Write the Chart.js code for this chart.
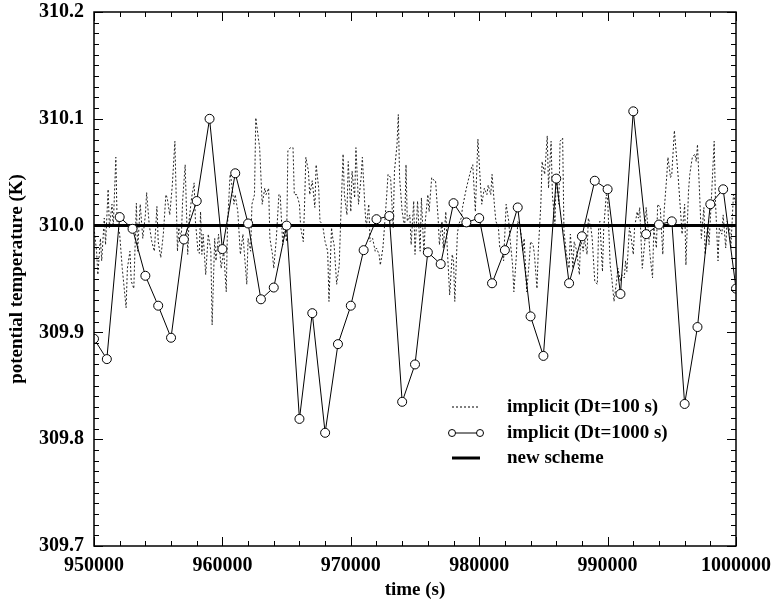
<!DOCTYPE html>
<html>
<head>
<meta charset="utf-8">
<script src="https://cdn.jsdelivr.net/npm/chart.js@4/dist/chart.umd.min.js"></script>
<style>
  html, body { margin: 0; padding: 0; background: #fff; }
  #wrap { width: 774px; height: 601px; }
</style>
</head>
<body>
<div id="wrap"><canvas id="tempChart" width="774" height="601"></canvas></div>
<script>
// ---- data ----
// implicit, Dt=1000 s: one value every 1000 s from 950000 to 1000000
var coarseStart = 950000;
var coarseStep = 1000;
var coarseValues = [
    309.894, 309.875, 310.008, 309.997, 309.953, 309.925, 309.895, 309.987, 310.023, 310.100,
    309.978, 310.049, 310.002, 309.931, 309.942, 310.000, 309.819, 309.918, 309.806, 309.889,
    309.925, 309.977, 310.006, 310.009, 309.835, 309.870, 309.975, 309.964, 310.021, 310.003,
    310.007, 309.946, 309.977, 310.017, 309.915, 309.878, 310.044, 309.946, 309.990, 310.042,
    310.034, 309.936, 310.107, 309.992, 310.001, 310.004, 309.833, 309.905, 310.020, 310.034,
    309.941
];

// implicit, Dt=100 s: turning points of the dotted trace
var fineTimes = [
    950000, 950200, 950300, 950500, 950600, 950800, 950900, 951100, 951200, 951400,
    951500, 951700, 951800, 952000, 952200, 952500, 952600, 952800, 952900, 953100,
    953300, 953400, 953600, 953800, 954000, 954100, 954300, 954500, 954700, 954900,
    955000, 955200, 955400, 955600, 955700, 955900, 956100, 956300, 956500, 956600,
    956800, 956900, 957100, 957300, 957400, 957600, 957800, 957900, 958100, 958200,
    958300, 958400, 958500, 958700, 958900, 959100, 959200, 959400, 959500, 959700,
    959900, 960100, 960300, 960400, 960600, 960700, 960900, 961000, 961200, 961400,
    961600, 961700, 961900, 962000, 962200, 962300, 962500, 962600, 962800, 962900,
    963100, 963300, 963400, 963600, 963700, 963900, 964000, 964200, 964400, 964500,
    964700, 964800, 965000, 965100, 965300, 965500, 965600, 965800, 966000, 966100,
    966300, 966400, 966500, 966700, 966800, 967000, 967200, 967300, 967500, 967600,
    967800, 968000, 968200, 968300, 968500, 968600, 968700, 968900, 969100, 969200,
    969400, 969500, 969700, 969800, 970000, 970100, 970300, 970400, 970600, 970800,
    970900, 971100, 971200, 971400, 971500, 971700, 971900, 972000, 972200, 972300,
    972500, 972600, 972800, 972900, 973100, 973300, 973400, 973600, 973700, 973800,
    974000, 974200, 974300, 974400, 974600, 974700, 974900, 975000, 975200, 975400,
    975500, 975700, 975800, 976000, 976100, 976300, 976500, 976600, 976800, 976900,
    977100, 977200, 977400, 977500, 977700, 977900, 978000, 978100, 978300, 978400,
    978600, 978700, 978900, 979000, 979200, 979400, 979500, 979700, 979800, 979900,
    980100, 980200, 980400, 980600, 980700, 980900, 981000, 981200, 981300, 981500,
    981600, 981800, 981900, 982100, 982300, 982400, 982600, 982700, 982900, 983000,
    983200, 983400, 983500, 983700, 983900, 984000, 984200, 984300, 984500, 984600,
    984800, 984900, 985100, 985300, 985400, 985600, 985700, 985900, 986000, 986200,
    986300, 986500, 986600, 986800, 987000, 987100, 987300, 987400, 987600, 987800,
    987900, 988100, 988200, 988400, 988500, 988700, 988800, 989000, 989200, 989300,
    989400, 989600, 989700, 989900, 990000, 990200, 990300, 990500, 990700, 990800,
    991000, 991100, 991300, 991400, 991500, 991700, 991800, 992000, 992100, 992300,
    992400, 992500, 992700, 992900, 993000, 993200, 993300, 993500, 993600, 993800,
    993900, 994100, 994300, 994400, 994600, 994700, 994900, 995000, 995200, 995400,
    995500, 995700, 995800, 996000, 996100, 996300, 996400, 996600, 996800, 996900,
    997000, 997200, 997300, 997500, 997600, 997800, 997900, 998100, 998300, 998400,
    998600, 998700, 998900, 999000, 999200, 999300, 999500, 999600, 999800, 1000000
];
var fineValues = [
    309.998, 309.976, 309.954, 309.988, 309.967, 310.007, 309.982, 310.034, 309.998, 310.020,
    309.999, 310.064, 310.004, 309.992, 309.960, 309.923, 309.960, 309.976, 309.948, 309.941,
    310.021, 309.976, 310.020, 309.988, 310.010, 310.031, 310.001, 309.985, 309.976, 310.018,
    309.985, 309.970, 309.992, 310.029, 310.026, 310.010, 310.038, 310.079, 309.976, 309.998,
    309.988, 310.023, 310.057, 309.973, 310.004, 310.026, 310.040, 310.004, 309.976, 309.974,
    310.013, 309.973, 309.992, 309.954, 309.992, 309.976, 309.907, 309.988, 309.967, 309.992,
    309.960, 309.976, 309.938, 310.001, 310.048, 310.042, 310.020, 310.029, 310.013, 309.973,
    309.992, 309.976, 309.945, 309.988, 309.976, 310.020, 310.029, 310.101, 310.082, 310.073,
    310.020, 310.035, 310.029, 310.035, 309.988, 309.973, 309.960, 309.988, 310.029, 310.029,
    309.982, 310.001, 309.985, 310.070, 310.073, 310.073, 310.029, 310.029, 310.020, 309.998,
    309.985, 310.020, 310.064, 310.051, 310.029, 310.042, 310.017, 310.057, 310.035, 310.004,
    310.001, 309.985, 309.976, 309.929, 309.998, 309.988, 309.982, 309.945, 309.963, 310.001,
    310.067, 310.029, 310.010, 310.060, 310.013, 310.051, 310.026, 310.073, 310.020, 310.045,
    310.064, 310.017, 309.998, 310.020, 309.985, 309.988, 309.976, 309.979, 309.973, 309.963,
    309.979, 309.995, 310.029, 310.048, 310.045, 309.998, 310.051, 310.076, 310.104, 310.045,
    310.013, 309.998, 310.057, 310.004, 310.010, 309.982, 310.023, 309.973, 310.023, 309.976,
    310.026, 309.973, 310.004, 310.029, 310.013, 310.045, 310.042, 310.042, 310.007, 309.982,
    310.004, 309.979, 310.013, 309.982, 309.935, 309.973, 309.967, 309.929, 309.992, 310.001,
    310.007, 310.017, 310.029, 310.035, 310.045, 310.054, 310.057, 310.013, 310.048, 310.081,
    310.038, 310.020, 310.035, 310.029, 310.038, 310.029, 310.048, 310.017, 310.004, 309.998,
    309.979, 309.976, 309.967, 310.020, 310.004, 309.988, 309.963, 309.938, 309.973, 310.004,
    309.998, 309.976, 309.988, 309.938, 309.967, 309.985, 309.982, 309.973, 309.941, 309.976,
    310.020, 310.060, 310.048, 310.084, 310.035, 310.079, 310.029, 310.001, 310.048, 310.020,
    310.079, 310.082, 309.995, 309.973, 309.960, 309.992, 309.960, 309.985, 309.976, 309.954,
    309.988, 309.976, 309.988, 309.973, 310.007, 309.998, 309.988, 309.948, 309.945, 309.998,
    310.004, 309.957, 309.998, 310.029, 310.026, 309.963, 309.954, 309.929, 309.948, 309.960,
    309.948, 309.954, 309.951, 309.967, 309.957, 309.998, 309.992, 309.973, 309.998, 310.013,
    310.007, 310.017, 309.960, 309.985, 310.017, 309.992, 309.973, 309.951, 309.998, 309.979,
    310.020, 310.017, 309.973, 310.013, 310.045, 310.064, 310.045, 310.048, 310.089, 310.060,
    310.045, 310.010, 309.992, 310.020, 309.963, 310.032, 310.048, 310.064, 310.067, 310.060,
    310.076, 310.020, 309.988, 310.017, 309.973, 310.001, 309.982, 310.029, 310.079, 310.023,
    309.967, 309.998, 309.992, 310.010, 309.979, 310.004, 309.998, 309.979, 310.029, 310.020
];

// new scheme: flat at 310.0
var newTimes = [950000, 1000000];
var newValues = [310.0, 310.0];

var xMin = 950000, xMax = 1000000, xStep = 10000, xMinor = 2000;
var yMin = 309.7, yMax = 310.2, yStep = 0.1, yMinor = 0.01;

var legendLabels = ['implicit (Dt=100 s)', 'implicit (Dt=1000 s)', 'new scheme'];

// ---- helpers ----
function pairs(xs, ys) {
    return xs.map(function (x, i) { return { x: x, y: ys[i] }; });
}

var coarseTimes = coarseValues.map(function (v, i) { return coarseStart + i * coarseStep; });

var serif = '"Liberation Serif", "Times New Roman", serif';

// inward ticks on all four sides + frame + legend
var framePlugin = {
    id: 'frame',
    afterDatasetsDraw: function (chart) {
        var ctx = chart.ctx;
        var a = chart.chartArea;
        var xs = chart.scales.x, ys = chart.scales.y;
        ctx.save();
        ctx.strokeStyle = '#000';
        ctx.lineWidth = 1;
        ctx.beginPath();
        var v, px, len, k;
        for (k = 0; xMin + k * xMinor <= xMax + 1e-6; k++) {
            v = xMin + k * xMinor;
            px = Math.round(xs.getPixelForValue(v)) + 0.5;
            len = (k % 5 === 0) ? 9 : 5;
            ctx.moveTo(px, a.bottom); ctx.lineTo(px, a.bottom - len);
            ctx.moveTo(px, a.top); ctx.lineTo(px, a.top + len);
        }
        for (k = 0; k <= 50; k++) {
            v = yMin + k * yMinor;
            px = Math.round(ys.getPixelForValue(v)) + 0.5;
            len = (k % 10 === 0) ? 9 : 5;
            ctx.moveTo(a.left, px); ctx.lineTo(a.left + len, px);
            ctx.moveTo(a.right, px); ctx.lineTo(a.right - len, px);
        }
        ctx.stroke();
        ctx.lineWidth = 1.5;
        ctx.strokeRect(a.left, a.top, a.right - a.left, a.bottom - a.top);
        ctx.restore();
    },
    afterDraw: function (chart) {
        var ctx = chart.ctx;
        var x0 = 452, x1 = 480, tx = 507;
        var rows = [407, 433, 458];
        ctx.save();
        ctx.strokeStyle = '#000';
        ctx.fillStyle = '#000';
        // dotted sample
        ctx.lineWidth = 1;
        ctx.setLineDash([2, 2]);
        ctx.beginPath(); ctx.moveTo(x0, rows[0]); ctx.lineTo(x1, rows[0]); ctx.stroke();
        ctx.setLineDash([]);
        // circle sample
        ctx.beginPath(); ctx.moveTo(x0, rows[1]); ctx.lineTo(x1, rows[1]); ctx.stroke();
        [x0, x1].forEach(function (cx) {
            ctx.beginPath();
            ctx.arc(cx, rows[1], 3.5, 0, Math.PI * 2);
            ctx.fillStyle = '#fff'; ctx.fill();
            ctx.stroke();
        });
        // thick sample
        ctx.lineWidth = 3;
        ctx.beginPath(); ctx.moveTo(x0, rows[2]); ctx.lineTo(x1, rows[2]); ctx.stroke();
        // labels
        ctx.fillStyle = '#000';
        ctx.font = 'bold 19px ' + serif;
        ctx.textBaseline = 'middle';
        ctx.textAlign = 'left';
        legendLabels.forEach(function (t, i) { ctx.fillText(t, tx, rows[i]); });
        ctx.restore();
    }
};

new Chart(document.getElementById('tempChart'), {
    type: 'line',
    data: {
        datasets: [
            {
                label: legendLabels[1],
                data: pairs(coarseTimes, coarseValues),
                borderColor: '#000',
                borderWidth: 1,
                pointRadius: 4.5,
                pointBackgroundColor: '#fff',
                pointBorderColor: '#000',
                pointBorderWidth: 1,
                tension: 0,
                order: 0
            },
            {
                label: legendLabels[2],
                data: pairs(newTimes, newValues),
                borderColor: '#000',
                borderWidth: 3,
                pointRadius: 0,
                order: 1
            },
            {
                label: legendLabels[0],
                data: pairs(fineTimes, fineValues),
                borderColor: '#222',
                borderWidth: 1,
                borderDash: [2, 2],
                pointRadius: 0,
                tension: 0,
                order: 2
            }
        ]
    },
    options: {
        responsive: false,
        animation: false,
        layout: { autoPadding: false, padding: { top: 12, right: 38, left: 0, bottom: 0 } },
        plugins: { legend: { display: false }, tooltip: { enabled: false } },
        scales: {
            x: {
                type: 'linear',
                min: xMin, max: xMax,
                afterFit: function (s) { s.height = 55; s.paddingLeft = 0; s.paddingRight = 0; },
                afterBuildTicks: function (s) {
                    var t = [];
                    for (var v = xMin; v <= xMax; v += xStep) t.push({ value: v });
                    s.ticks = t;
                },
                ticks: {
                    padding: 8,
                    color: '#000',
                    maxRotation: 0,
                    font: { family: serif, weight: 'bold', size: 20 },
                    callback: function (v) { return String(v); }
                },
                grid: { drawOnChartArea: false, drawTicks: false },
                border: { display: false },
                title: {
                    display: true, text: 'time (s)', color: '#000',
                    padding: { top: 0, bottom: 0 },
                    font: { family: serif, weight: 'bold', size: 19 }
                }
            },
            y: {
                type: 'linear',
                min: yMin, max: yMax,
                afterFit: function (s) { s.width = 94; s.paddingTop = 0; s.paddingBottom = 0; },
                afterBuildTicks: function (s) {
                    var t = [];
                    for (var k = 0; k <= 5; k++) t.push({ value: yMin + k * yStep });
                    s.ticks = t;
                },
                ticks: {
                    padding: 10,
                    color: '#000',
                    font: { family: serif, weight: 'bold', size: 20 },
                    callback: function (v) { return Number(v).toFixed(1); }
                },
                grid: { drawOnChartArea: false, drawTicks: false },
                border: { display: false },
                title: {
                    display: true, text: 'potential temperature (K)', color: '#000',
                    padding: { top: 6, bottom: 4 },
                    font: { family: serif, weight: 'bold', size: 19 }
                }
            }
        }
    },
    plugins: [framePlugin]
});
</script>
</body>
</html>
